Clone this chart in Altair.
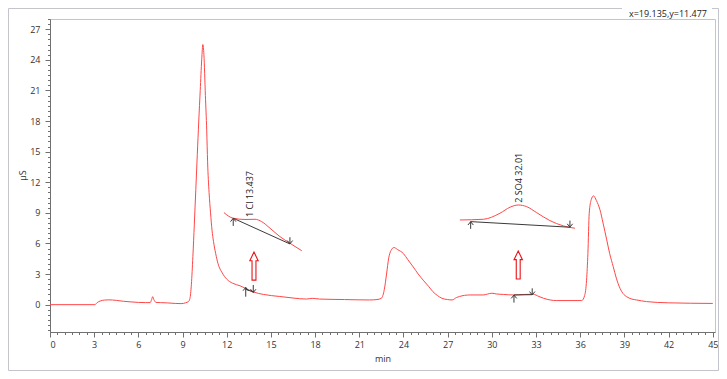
import altair as alt
import pandas as pd

# ---- main chromatogram trace (min, uS) ----
t_min = [0, 3.05, 3.2, 3.4, 3.7, 4.0, 4.5, 5.0, 5.5, 6.0, 6.5, 6.8, 6.9, 6.97, 7.05, 7.2, 7.5, 8.0, 8.5, 8.9,
         9.2, 9.4, 9.5, 9.6, 9.7, 9.8, 9.9, 10.0, 10.1, 10.2, 10.3, 10.38, 10.45, 10.55, 10.64, 10.7, 10.8, 10.9,
         11.0, 11.1, 11.25, 11.4, 11.7, 12.0, 12.4, 12.9, 13.35, 13.8, 14.5, 15.6, 16.5, 17.4, 17.8, 18.3, 20.0,
         21.7, 22.2, 22.5, 22.7, 22.85, 23.0, 23.15, 23.35, 23.6, 24.0, 24.3, 24.66, 25.0, 25.34, 25.7, 26.0,
         26.3, 26.6, 27.0, 27.3, 27.6, 27.8, 28.5, 29.4, 30.0, 30.3, 30.8, 31.45, 32.2, 32.8, 33.2, 33.5, 34.0,
         34.4, 36.1, 36.3, 36.43, 36.52, 36.61, 36.75, 36.9, 37.1, 37.34, 37.55, 37.8, 38.0, 38.24, 38.45, 38.7,
         38.9, 39.15, 39.5, 39.83, 40.5, 42.0, 45.0]
signal = [0.0, 0.0, 0.2, 0.35, 0.45, 0.47, 0.42, 0.33, 0.27, 0.22, 0.2, 0.2, 0.5, 0.78, 0.5, 0.22, 0.2, 0.17, 0.12, 0.1,
          0.18, 0.3, 0.6, 2.0, 4.7, 7.9, 11.3, 14.7, 18.0, 21.0, 24.0, 25.5, 24.5, 20.5, 17.1, 14.0, 11.0, 9.0,
          7.3, 6.2, 5.0, 4.06, 3.1, 2.5, 2.1, 1.85, 1.55, 1.25, 1.0, 0.8, 0.65, 0.55, 0.62, 0.55, 0.5,
          0.46, 0.5, 0.63, 1.5, 3.0, 4.6, 5.3, 5.6, 5.4, 5.0, 4.4, 3.7, 3.0, 2.4, 1.8, 1.27,
          0.9, 0.63, 0.5, 0.46, 0.7, 0.8, 0.95, 0.95, 1.12, 1.05, 1.0, 0.95, 1.0, 1.02, 0.8, 0.63, 0.45,
          0.4, 0.4, 0.9, 2.4, 5.0, 8.96, 10.3, 10.66, 10.2, 9.3, 8.0, 6.35, 5.0, 3.73, 2.6, 1.6,
          1.1, 0.78, 0.55, 0.46, 0.3, 0.18, 0.12]

# ---- zoomed peak insets (drawn in main-axis units) ----
inset1_t = [11.81, 12.44, 13.24, 13.92, 14.37, 14.94, 15.61, 16.29, 17.09]
inset1_y = [9.02, 8.47, 8.35, 8.37, 8.14, 7.49, 6.67, 6.02, 5.29]
inset2_t = [27.83, 29.42, 30.55, 31.23, 31.79, 32.36, 33.04, 33.94, 34.85, 35.64]
inset2_y = [8.30, 8.37, 8.96, 9.55, 9.77, 9.61, 9.02, 8.24, 7.72, 7.49]

# integration baselines
base_x0 = [12.44, 28.56, 13.29, 31.5]
base_y0 = [8.47, 8.14, 1.5, 0.95]
base_x1 = [16.29, 35.30, 13.8, 32.74]
base_y1 = [5.95, 7.59, 1.25, 0.98]

# peak start / end markers
mk_x = [12.44, 16.29, 28.56, 35.30, 13.29, 13.8, 31.5, 32.74]
mk_lo = [7.72, 5.95, 7.43, 7.59, 0.78, 1.18, 0.2, 0.95]
mk_hi = [8.47, 6.61, 8.14, 8.24, 1.7, 1.93, 0.95, 1.6]
mk_dir = ["up", "down", "up", "down", "up", "down", "up", "down"]

# peak labels
lab_x = [13.58, 31.86]
lab_y = [8.6, 10.0]
lab_text = ["1 Cl 13.437", "2 SO4 32.01"]

# hollow arrows
arr_x = [13.85, 31.79]
arr_y = [3.78, 3.89]

cursor_text = "x=19.135,y=11.477"

X_DOMAIN = [0, 45.15]
Y_DOMAIN = [-2.68, 28.0]
x_major = [float(v) for v in range(0, 46, 3)]
y_major = [float(v) for v in range(0, 28, 3)]
x_minor = [i * 0.5 for i in range(0, 91)]
y_minor = [i * 0.5 for i in range(-5, 57)]

FONT = "Open Sans"
RED = "#ff4747"
AX = "#707070"
TXT = "#333333"

xs = alt.Scale(domain=X_DOMAIN, nice=False, zero=False)
ys = alt.Scale(domain=Y_DOMAIN, nice=False, zero=False)

x_axis = alt.Axis(
    values=x_major, title="min", grid=False, labelOverlap=False, format="d", orient="bottom",
    tickSize=5, domainColor=AX, tickColor=AX, labelColor=TXT, labelFont=FONT, labelFontSize=9,
    labelPadding=3, titleFont=FONT, titleFontSize=9, titleFontWeight="normal",
    titleColor=TXT, titlePadding=5)
y_axis = alt.Axis(
    values=y_major, title="μS", grid=False, labelOverlap=False, format="d", orient="left",
    tickSize=5, domainColor=AX, tickColor=AX, labelColor=TXT, labelFont=FONT, labelFontSize=9,
    labelPadding=5, titleFont=FONT, titleFontSize=9, titleFontWeight="normal",
    titleColor=TXT, titleX=-28, titleY=156, titleAlign="center", titleBaseline="middle")
x_minor_axis = alt.Axis(values=x_minor, title=None, labels=False, grid=False, domain=False,
                        orient="bottom", tickSize=2.5, tickColor=AX)
y_minor_axis = alt.Axis(values=y_minor, title=None, labels=False, grid=False, domain=False,
                        orient="left", tickSize=2.5, tickColor=AX)


def X(f):
    return alt.X(f, scale=xs, axis=x_axis)


def Y(f):
    return alt.Y(f, scale=ys, axis=y_axis)


main_df = pd.DataFrame({"t": t_min, "v": signal})
main = alt.Chart(main_df).mark_line(color=RED, strokeWidth=1, interpolate="monotone").encode(
    x=X("t:Q"), y=Y("v:Q"))

ins_df = pd.DataFrame({
    "t": inset1_t + inset2_t,
    "v": inset1_y + inset2_y,
    "g": ["a"] * len(inset1_t) + ["b"] * len(inset2_t),
})
insets = alt.Chart(ins_df).mark_line(color=RED, strokeWidth=1, interpolate="monotone").encode(
    x=X("t:Q"), y=Y("v:Q"), detail="g:N")

base_df = pd.DataFrame({"x0": base_x0, "y0": base_y0, "x1": base_x1, "y1": base_y1})
baselines = alt.Chart(base_df).mark_rule(color="#3a3a3a", strokeWidth=1).encode(
    x=X("x0:Q"), y=Y("y0:Q"), x2="x1:Q", y2="y1:Q")

mk_df = pd.DataFrame({"x": mk_x, "lo": mk_lo, "hi": mk_hi, "d": mk_dir})
mk_df["tip"] = [h if d == "up" else l for l, h, d in zip(mk_lo, mk_hi, mk_dir)]
mk_rules = alt.Chart(mk_df).mark_rule(color="#3a3a3a", strokeWidth=1).encode(
    x=X("x:Q"), y=Y("lo:Q"), y2="hi:Q")
up_heads = alt.Chart(mk_df).transform_filter("datum.d == 'up'").mark_point(
    shape="M-1,0.7L0,-0.5L1,0.7", size=30, filled=False, stroke="#3a3a3a", strokeWidth=1, opacity=1,
    yOffset=1.5).encode(x=X("x:Q"), y=Y("tip:Q"))
down_heads = alt.Chart(mk_df).transform_filter("datum.d == 'down'").mark_point(
    shape="M-1,-0.7L0,0.5L1,-0.7", size=30, filled=False, stroke="#3a3a3a", strokeWidth=1, opacity=1,
    yOffset=-1.5).encode(x=X("x:Q"), y=Y("tip:Q"))

lab_df = pd.DataFrame({"x": lab_x, "y": lab_y, "s": lab_text})
labels = alt.Chart(lab_df).mark_text(
    angle=270, align="left", baseline="middle", font=FONT, fontSize=9, color="#222222").encode(
    x=X("x:Q"), y=Y("y:Q"), text="s:N")

arr_df = pd.DataFrame({"x": arr_x, "y": arr_y})
arrows = alt.Chart(arr_df).mark_point(
    shape="M-0.14,1L-0.14,-0.38L-0.3,-0.38L0,-1L0.3,-0.38L0.14,-0.38L0.14,1Z",
    size=784, filled=True, fill="white", stroke="#e8141a", strokeWidth=1.1, opacity=1).encode(
    x=X("x:Q"), y=Y("y:Q"))

# minor ticks layer (invisible marks, own axes)
minor = alt.Chart(main_df).mark_point(opacity=0, size=0).encode(
    x=alt.X("t:Q", scale=xs, axis=x_minor_axis),
    y=alt.Y("v:Q", scale=ys, axis=y_minor_axis))

one = pd.DataFrame({"k": [0]})
outer = alt.Chart(one).mark_rect(fill="transparent", stroke="#c4c4cc", strokeWidth=1).encode(
    x=alt.value(-41.5), x2=alt.value(668.5), y=alt.value(-10.5), y2=alt.value(351.5))
cursor_bg = alt.Chart(one).mark_rect(fill="white").encode(
    x=alt.value(572), x2=alt.value(662), y=alt.value(-12), y2=alt.value(-2))
cursor = alt.Chart(one).mark_text(
    align="right", baseline="middle", font=FONT, fontSize=9, color="#222222").encode(
    x=alt.value(657), y=alt.value(-5.5), text=alt.value(cursor_text))

base_layer = alt.layer(
    outer, cursor_bg, cursor, main, insets, baselines, mk_rules, up_heads, down_heads, labels, arrows
)
chart = alt.layer(base_layer, minor).resolve_axis(x="independent", y="independent").properties(
    width=665, height=313,
    padding={"left": 42, "top": 11, "right": 4, "bottom": 39},
    autosize=alt.AutoSizeParams(type="none"),
    background="white",
).configure_view(stroke="#c4c4cc", strokeWidth=1)

chart.save("out.html", embed_options={"renderer": "svg", "actions": False})
